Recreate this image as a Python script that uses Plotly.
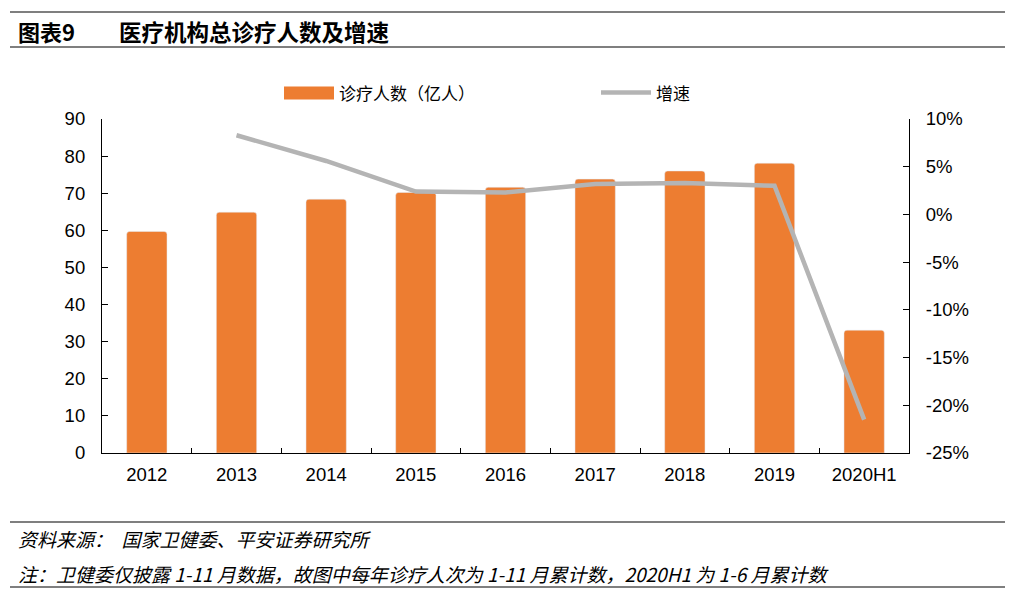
import plotly.graph_objects as go

categories = ["2012", "2013", "2014", "2015", "2016", "2017", "2018", "2019", "2020H1"]
visits = [59.7, 64.9, 68.4, 70.2, 71.6, 73.8, 76.0, 78.1, 33.1]
growth = [None, 8.3, 5.6, 2.4, 2.3, 3.2, 3.3, 3.0, -21.5]
growth_ticks = [10, 5, 0, -5, -10, -15, -20, -25]
growth_tick_labels = ["10%", "5%", "0%", "-5%", "-10%", "-15%", "-20%", "-25%"]

bar_name = "诊疗人数（亿人）"
line_name = "增速"
title_num = "图表9"
title_text = "医疗机构总诊疗人数及增速"
source_text = "资料来源：  国家卫健委、平安证券研究所"
note_text = "注：卫健委仅披露 1-11 月数据，故图中每年诊疗人次为 1-11 月累计数，2020H1 为 1-6 月累计数"

OFF = 8  # page body margin
W, H = 1023 - OFF, 597 - OFF
L, R, T, B = 102 - OFF, 909 - OFF, 119 - OFF, 453 - OFF

def px(x):
    return (x - OFF - L) / (R - L)

def py(y):
    return (B - (y - OFF)) / (B - T)

ORANGE = "#ED7D31"
GRAY = "#B4B4B4"
CJK = "Noto Sans CJK SC"
LAT = "Liberation Sans, Arial"
TICK = 18.5

fig = go.Figure()
fig.add_trace(go.Bar(x=categories, y=visits, name=bar_name, marker_color=ORANGE,
                     showlegend=False))
fig.add_trace(go.Scatter(x=categories, y=growth, name=line_name, yaxis="y2", mode="lines",
                         line=dict(color=GRAY, width=4.5), showlegend=False))

shapes = []
for yy in (12, 47, 522, 587):
    shapes.append(dict(type="line", xref="paper", yref="paper", x0=px(10), x1=px(1005),
                       y0=py(yy), y1=py(yy), line=dict(color="black", width=1.2)))
# manual legend
shapes.append(dict(type="rect", xref="paper", yref="paper", x0=px(284), x1=px(334),
                   y0=py(99.5), y1=py(86.5), fillcolor=ORANGE, line=dict(width=0)))
shapes.append(dict(type="line", xref="paper", yref="paper", x0=px(601), x1=px(651),
                   y0=py(92.5), y1=py(92.5), line=dict(color=GRAY, width=4.5)))

annotations = [
    dict(text="<b>" + title_num + "</b>", x=px(16), y=py(31), xref="paper", yref="paper",
         xanchor="left", yanchor="middle", showarrow=False,
         font=dict(family=CJK, size=22, color="black")),
    dict(text="<b>" + title_text + "</b>", x=px(117), y=py(31), xref="paper", yref="paper",
         xanchor="left", yanchor="middle", showarrow=False,
         font=dict(family=CJK, size=22.5, color="black")),
    dict(text=bar_name, x=px(337), y=py(93), xref="paper", yref="paper",
         xanchor="left", yanchor="middle", showarrow=False,
         font=dict(family=CJK, size=17, color="black")),
    dict(text=line_name, x=px(654), y=py(93), xref="paper", yref="paper",
         xanchor="left", yanchor="middle", showarrow=False,
         font=dict(family=CJK, size=17, color="black")),
    dict(text="<i>" + source_text + "</i>", x=px(16), y=py(538), xref="paper", yref="paper",
         xanchor="left", yanchor="middle", showarrow=False,
         font=dict(family=CJK, size=19, color="black")),
    dict(text="<i>" + note_text + "</i>", x=px(16), y=py(573), xref="paper", yref="paper",
         xanchor="left", yanchor="middle", showarrow=False,
         font=dict(family=CJK, size=19, color="black")),
]

fig.update_layout(
    width=W, height=H,
    margin=dict(l=L, r=W - R, t=T, b=H - B, pad=0),
    paper_bgcolor="white", plot_bgcolor="white",
    bargap=0.55, barcornerradius=3,
    showlegend=False,
    shapes=shapes, annotations=annotations,
    xaxis=dict(type="category", showline=True, linecolor="black", linewidth=1.2,
               ticks="inside", tickson="boundaries", ticklen=5, tickcolor="black",
               showgrid=False, tickfont=dict(family=LAT, size=TICK, color="black"),
               ticklabelstandoff=5),
    yaxis=dict(range=[0, 90], dtick=10, showline=True, linecolor="black", linewidth=1.2,
               ticks="inside", ticklen=6, tickcolor="black", showgrid=False, zeroline=False,
               tickfont=dict(family=LAT, size=TICK, color="black"), ticklabelstandoff=12),
    yaxis2=dict(range=[-25, 10], tickmode="array", tickvals=growth_ticks,
                ticktext=growth_tick_labels, overlaying="y", side="right",
                showline=True, linecolor="black", linewidth=1.2,
                ticks="inside", ticklen=6, tickcolor="black", showgrid=False, zeroline=False,
                tickfont=dict(family=LAT, size=TICK, color="black"), ticklabelstandoff=12),
)

fig.write_html("out.html")
